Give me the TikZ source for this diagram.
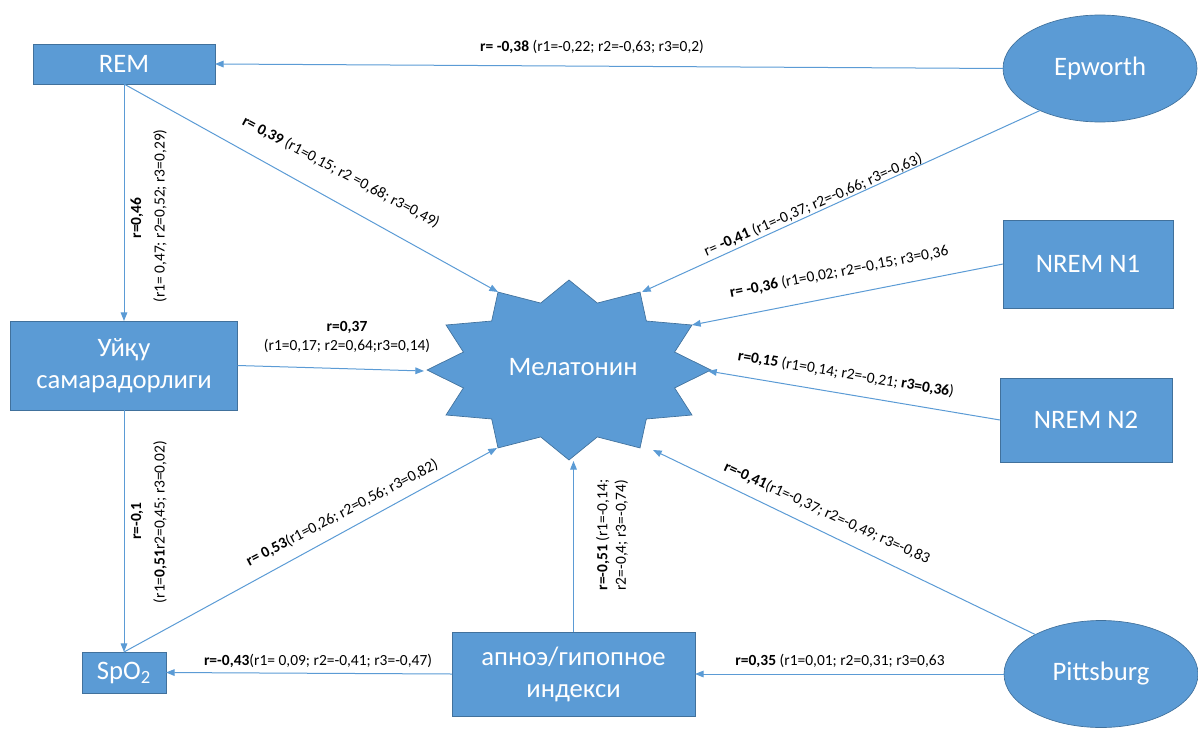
\documentclass[tikz,border=0pt]{standalone}
\usepackage{fontspec}
\setmainfont{Carlito}
\usetikzlibrary{arrows.meta,shapes.geometric}
\definecolor{boxfill}{HTML}{5B9BD5}
\definecolor{boxline}{HTML}{41719C}
\definecolor{wire}{HTML}{5B9BD5}

\begin{document}
\begin{tikzpicture}[x=0.75pt,y=-0.75pt,
  box/.style={rectangle, fill=boxfill, draw=boxline, line width=0.5pt, text=white,
    font=\fontsize{20}{24}\selectfont, align=center, inner sep=0pt, outer sep=0pt},
  oval/.style={ellipse, fill=boxfill, draw=boxline, line width=0.5pt, text=white,
    font=\fontsize{20}{24}\selectfont, inner sep=0pt, outer sep=0pt,
    minimum width=145.5pt, minimum height=80.25pt},
  link/.style={draw=wire, line width=0.75pt, -{Triangle[length=6.5pt,width=5pt]}},
  lbl/.style={font=\fontsize{11.6}{14}\selectfont, inner sep=0pt, text=black, align=center}]

\useasboundingbox (0,0) rectangle (1198,742);

% boxes and ovals
\node[box, minimum width=136.5pt, minimum height=30pt] (rem) at (124,64) {REM};
\node[box, minimum width=170.25pt, minimum height=66.75pt] (eff) at (124,365.5) {Уйқу\\самарадорлиги};
\node[box, minimum width=63pt, minimum height=30.75pt] (spo) at (124,672.5) {SpO\textsubscript{2}};
\node[box, minimum width=182.25pt, minimum height=63pt] (apn) at (573.5,674) {апноэ/гипопное\\индекси};
\node[box, minimum width=127.5pt, minimum height=66pt] (n1) at (1088,264) {NREM N1};
\node[box, minimum width=129pt, minimum height=63pt] (n2) at (1086,420) {NREM N2};
\node[oval] (epw) at (1100,68.5) {Epworth};
\node[oval] (pit) at (1101,674) {Pittsburg};

% twelve-pointed star
\filldraw[fill=boxfill, draw=boxline, line width=0.5pt]
  plot[samples at={0,...,23}, variable=\k]
  ({569+142*(1-0.23*mod(\k,2))*cos(90+15*\k)}, {370-90*(1-0.23*mod(\k,2))*sin(90+15*\k)}) -- cycle;
\node[text=white, font=\fontsize{20}{24}\selectfont] (mel) at (573,367) {Мелатонин};

% arrow ends at the star's points
\coordinate (mA) at (498,292);
\coordinate (mB) at (642,292);
\coordinate (mC) at (692,325);
\coordinate (mD) at (708,371);
\coordinate (mE) at (653,450);
\coordinate (mF) at (573.5,461);
\coordinate (mG) at (497,448);
\coordinate (mH) at (424,371);

% connectors
\draw[link] (epw.west) -- (rem.east);
\draw[link] (rem.south) -- (eff.north);
\draw[link] (rem.south) -- (mA);
\draw[link] (epw.-145) -- (mB);
\draw[link] (n1.west) -- (mC);
\draw[link] (n2.west) -- (mD);
\draw[link] (pit.149) -- (mE);
\draw[link] (pit.west) -- (apn.east);
\draw[link] (apn.north) -- (mF);
\draw[link] (apn.west) -- (spo.east);
\draw[link] (spo.north) -- (mG);
\draw[link] (eff.south) -- (spo.north);
\draw[link] (eff.east) -- (mH);

% correlation labels
\node[lbl] at (592,47) {\textbf{r= -0,38} (r1=-0,22; r2=-0,63; r3=0,2)};
\node[lbl, rotate=90] at (137,218) {\textbf{r=0,46}};
\node[lbl, rotate=90] at (160,216) {(r1= 0,47; r2=0,52; r3=0,29)};
\node[lbl, rotate=-28] at (341,172) {\textbf{r= 0,39} (r1=0,15; r2 =0,68; r3=0,49)};
\node[lbl, rotate=23.5] at (813,205) {r= \textbf{-0,41} (r1=-0,37; r2=-0,66; r3=-0,63)};
\node[lbl, rotate=11] at (839,272) {\textbf{r= -0,36} (r1=0,02; r2=-0,15; r3=0,36};
\node[lbl, rotate=-9.6] at (846,374) {\textbf{r=0,15} (r1=0,14; r2=-0,21; \textbf{r3=0,36})};
\node[lbl] at (347,337) {\textbf{r=0,37}\\(r1=0,17; r2=0,64;r3=0,14)};
\node[lbl, rotate=90] at (137,521) {\textbf{r=-0,1}};
\node[lbl, rotate=90] at (160,522) {(r1=\textbf{0,51}r2=0,45; r3=0,02)};
\node[lbl, rotate=27.5] at (342,513) {\textbf{r= 0,53}(r1=0,26; r2=0,56; r3=0,82)};
\node[lbl, rotate=90, align=left] at (612,535) {\textbf{r=-0,51} (r1=-0,14;\\r2=-0,4; r3=-0,74)};
\node[lbl, rotate=-24.7] at (827,513) {\textbf{r=-0,41}(r1=-0,37; r2=-0,49; r3=-0,83};
\node[lbl] at (318,661) {\textbf{r=-0,43}(r1= 0,09; r2=-0,41; r3=-0,47)};
\node[lbl] at (840,661) {\textbf{r=0,35} (r1=0,01; r2=0,31; r3=0,63};
\end{tikzpicture}
\end{document}
